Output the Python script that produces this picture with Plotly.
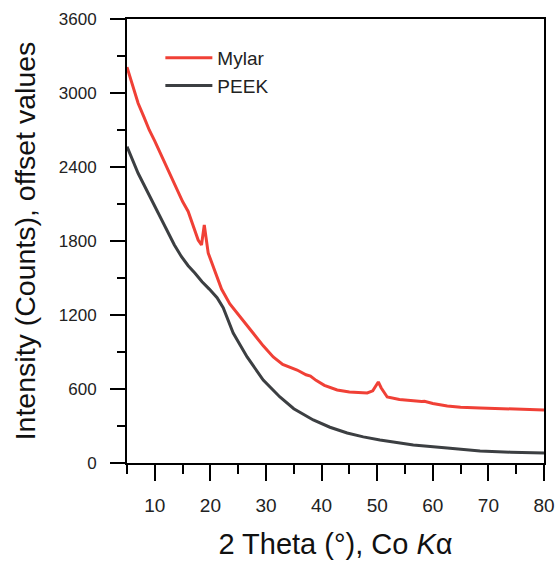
import plotly.graph_objects as go

# Mylar (red) trace
mylar_x = [5, 6, 7, 8, 9, 10, 11, 12, 13, 14, 15, 16, 17, 17.8, 18.4, 18.9, 19.6, 20.5,
           22.0, 23.5, 24.8, 26, 27.7, 29.5, 31.3, 33, 35.6, 37.2, 38, 39, 40.5, 42.8, 45,
           48.2, 49.2, 49.8, 50.2, 50.7, 51.8, 54, 56, 58, 58.5, 60, 62.6, 65, 68.5, 72, 76, 80]
mylar_y = [3210, 3060, 2917, 2810, 2700, 2610, 2510, 2410, 2310, 2210, 2120, 2040, 1920,
           1808, 1768, 1930, 1703, 1590, 1410, 1290, 1217, 1140, 1054, 950, 860, 800, 754,
           715, 705, 670, 630, 592, 575, 568, 585, 630, 657, 610, 535, 515, 505, 498, 500,
           482, 462, 453, 446, 440, 435, 430]

# PEEK (dark grey) trace
peek_x = [5, 6, 7, 8, 8.8, 10, 10.6, 12.4, 13.5, 14.8, 16, 17.2, 18.5, 19.8, 21.2, 22.3,
          24.1, 26.6, 29.5, 32.5, 35, 38.5, 41.5, 44.6, 47.5, 50.5, 53.5, 56.5, 62.6, 68.5,
          74, 80]
peek_y = [2565, 2450, 2349, 2260, 2190, 2080, 2028, 1865, 1770, 1673, 1600, 1541, 1470,
          1410, 1340, 1260, 1054, 860, 673, 535, 440, 349, 290, 243, 212, 187, 165, 146,
          122, 97, 88, 81]

x_ticks = [10, 20, 30, 40, 50, 60, 70, 80]
y_ticks = [0, 600, 1200, 1800, 2400, 3000, 3600]

RED = "rgb(240,64,54)"
GREY = "rgb(60,63,66)"
FONT = "Liberation Sans, Arial, sans-serif"

fig = go.Figure()
fig.add_trace(go.Scatter(x=mylar_x, y=mylar_y, mode="lines", name="Mylar",
                         line=dict(color=RED, width=3)))
fig.add_trace(go.Scatter(x=peek_x, y=peek_y, mode="lines", name="PEEK",
                         line=dict(color=GREY, width=3)))

fig.update_layout(
    width=557, height=561,
    margin=dict(l=127, r=13, t=19, b=98),
    paper_bgcolor="white", plot_bgcolor="white",
    font=dict(family=FONT, color="#222"),
    showlegend=True,
    legend=dict(x=0.08, y=0.955, xanchor="left", yanchor="top",
                bgcolor="rgba(0,0,0,0)", font=dict(size=19, color="#222"),
                itemwidth=47, tracegroupgap=0),
)
fig.update_xaxes(
    range=[5, 80], tickvals=x_ticks, ticks="outside", ticklen=16, tickwidth=2,
    tickcolor="black", showline=True, linewidth=2, linecolor="black", mirror=True,
    showgrid=False, zeroline=False, tickfont=dict(size=19, color="#222"),
    ticklabelstandoff=8, automargin=False,
    minor=dict(dtick=5, tick0=5, ticks="outside", ticklen=9, tickwidth=2, tickcolor="black"),
    title=dict(text="2 Theta (°), Co <i>K</i>α", font=dict(size=29, color="#111"), standoff=19),
)
fig.update_yaxes(
    range=[0, 3600], tickvals=y_ticks, ticks="outside", ticklen=15, tickwidth=2,
    tickcolor="black", showline=True, linewidth=2, linecolor="black", mirror=True,
    showgrid=False, zeroline=False, tickfont=dict(size=17, color="#222"),
    ticklabelstandoff=10, automargin=False,
    minor=dict(dtick=300, tick0=0, ticks="outside", ticklen=8, tickwidth=2, tickcolor="black"),
    title=dict(text="Intensity (Counts), offset values", font=dict(size=28.5, color="#111"), standoff=15),
)

fig.write_html(
    "out.html",
    config={"displayModeBar": False},
    post_script="document.body.style.margin='0';document.body.style.overflow='hidden';",
)
